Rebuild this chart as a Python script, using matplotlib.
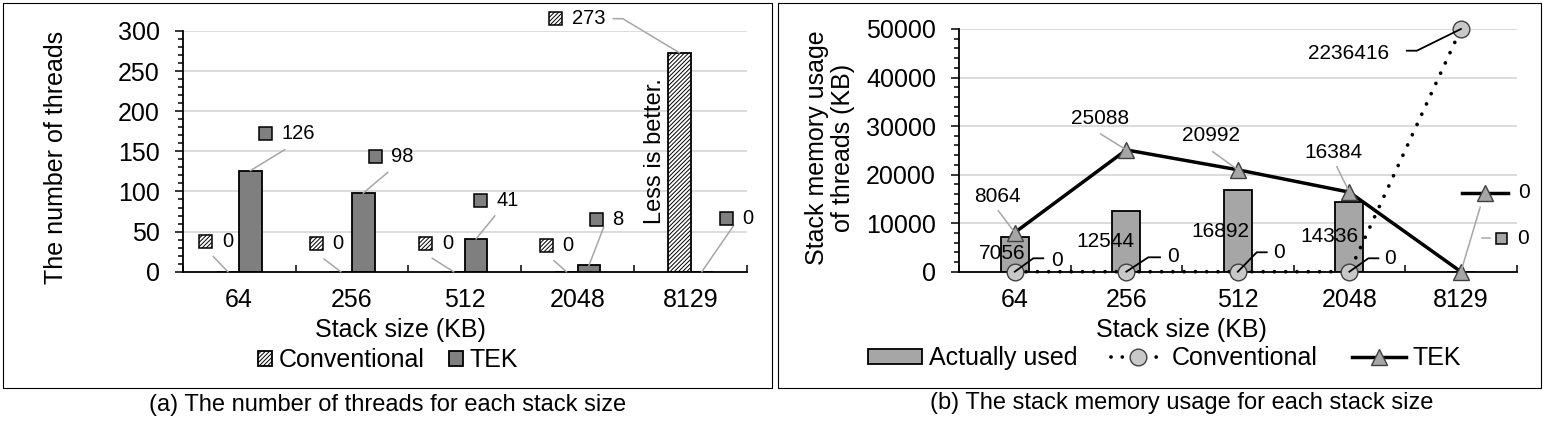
import numpy as np
import matplotlib
matplotlib.use('Agg')
import matplotlib.pyplot as plt
from matplotlib.patches import Rectangle
from matplotlib.lines import Line2D

plt.rcParams['font.family'] = ['Liberation Sans', 'DejaVu Sans']
plt.rcParams['hatch.linewidth'] = 0.7

W, H = 1546, 424

# Data
stack_sizes = ['64', '256', '512', '2048', '8129']
threads_conv = [0, 0, 0, 0, 273]
threads_tek = [126, 98, 41, 8, 0]
mem_used = [7056, 12544, 16892, 14336, 0]
mem_conv = [0, 0, 0, 0, 2236416]
mem_tek = [8064, 25088, 20992, 16384, 0]

# Label layout: pixel offsets from the labelled point (x right, y up)
conv_keys = [(-21.9, 30), (-24.5, 28), (-27.6, 28), (-20.2, 25.7), (-123.5, 34)]
conv_leads = [[(-14.4, 15), (0, 0)], [(-16.7, 12.7), (0, 0)], [(-21.3, 13.4), (0, 0)],
              [(-12.4, 11), (0, 0)], [(-66, 34), (-56.6, 34), (0, 0)]]
tek_keys = [(14.6, 36.9), (11.9, 36.6), (4.5, 38.4), (7.2, 45.6), (24.5, 53)]
tek_leads = [[(34.3, 20.9), (0, 0)], [(24.4, 20.6), (0, 0)], [(18.7, 22.9), (0, 0)],
             [(14.7, 38), (0, 0)], [(31.7, 46), (0, 0)]]

used_text = [(-13, 18.4), (-20.5, 30), (-17.8, 39.7), (-20.3, 35.4)]
tekr_text = [(-17.3, 36.1), (-25.8, 31.9), (-26.5, 34.6), (-15.6, 40)]
tekr_leads = [[(-16.5, 21.9), (0, 0)], [(-25.6, 15.9), (0, 0)], [(-25.1, 18.1), (0, 0)],
              [(-12.6, 25.5), (0, 0)], [(19.2, 64.4), (0, 0)]]
convr_leads = [[(0, 0), (18.5, 13.4), (28.5, 13.4)], [(0, 0), (22, 14.4), (33.7, 14.4)],
               [(0, 0), (18.9, 19.4), (28.9, 19.4)], [(0, 0), (19, 13.4), (29, 13.4)],
               [(0, 0), (-44.1, -21.7), (-54.1, -21.7)]]
convr_text = [(35.9, 11.7, 'left'), (40.4, 14.7, 'left'), (35.5, 19.2, 'left'),
              (34.7, 12.7, 'left'), (-71.5, -24.2, 'right')]

GRID = '#d9d9d9'
LEAD = '#a6a6a6'
HATCH = '////////'

fig = plt.figure(figsize=(W / 100, H / 100), dpi=100)


def fx(p):
    return p / W


def fy(p):
    return 1 - p / H


def at(ax, x, y, dx=0.0, dy=0.0):
    X, Y = ax.transData.transform((x, y))
    return (X + dx) / W, (Y + dy) / H


def leader(ax, x, y, pts, color=LEAD, lw=1.1):
    xy = [at(ax, x, y, dx, dy) for dx, dy in pts]
    xs, ys = zip(*xy)
    fig.add_artist(Line2D(xs, ys, transform=fig.transFigure, color=color, lw=lw, zorder=5))


def key_square(ax, x, y, dx, dy, size, **kw):
    cx, cy = at(ax, x, y, dx, dy)
    fig.add_artist(Rectangle((cx - size / 2 / W, cy - size / 2 / H), size / W, size / H,
                             transform=fig.transFigure, zorder=5, **kw))


def style(ax, ymax, step, minor):
    ax.set_xlim(-0.5, 4.5)
    ax.set_ylim(0, ymax)
    ax.patch.set_visible(False)
    for s in ['top', 'right']:
        ax.spines[s].set_visible(False)
    for s in ['left', 'bottom']:
        ax.spines[s].set_linewidth(1.3)
    ax.set_yticks(np.arange(0, ymax + 1, step))
    ax.set_yticks(np.arange(0, ymax + 1, minor), minor=True)
    ax.yaxis.grid(True, which='major', color=GRID, lw=1.3)
    ax.set_axisbelow(True)
    ax.set_xticks(np.arange(-0.5, 5), labels=[''] * 6)
    ax.set_xticks(range(5), labels=stack_sizes, minor=True)
    ax.tick_params(axis='x', which='major', direction='in', length=5.3, width=1.1)
    ax.tick_params(axis='x', which='minor', length=0, pad=11.5, labelsize=18)
    ax.tick_params(axis='y', which='major', direction='out', length=5.5, width=1.1,
                   pad=11, labelsize=18)
    ax.tick_params(axis='y', which='minor', direction='out', length=3.8, width=1.1)


# ---------- (a) number of threads ----------
axL = fig.add_axes([fx(182.7), fy(271.7), (747 - 182.7) / W, (271.7 - 31) / H])
style(axL, 300, 50, 10)
x = np.arange(5)
bc = axL.bar(x - 0.1, threads_conv, 0.2, color='white', edgecolor='black', hatch=HATCH,
             lw=1.3, zorder=2, label='Conventional')
bt = axL.bar(x + 0.1, threads_tek, 0.2, color='#7f7f7f', edgecolor='black', lw=1.3,
             zorder=2, label='TEK')

for i in range(5):
    leader(axL, i - 0.1, threads_conv[i], conv_leads[i])
    dx, dy = conv_keys[i]
    key_square(axL, i - 0.1, threads_conv[i], dx, dy, 13, fc='white', ec='black',
               hatch=HATCH, lw=1.1)
    tx, ty = at(axL, i - 0.1, threads_conv[i], dx + 16, dy)
    fig.text(tx, ty, str(threads_conv[i]), ha='left', va='center', fontsize=14.5)

    leader(axL, i + 0.1, threads_tek[i], tek_leads[i])
    dx, dy = tek_keys[i]
    key_square(axL, i + 0.1, threads_tek[i], dx, dy, 13, fc='#7f7f7f', ec='black', lw=1.1)
    tx, ty = at(axL, i + 0.1, threads_tek[i], dx + 16, dy)
    fig.text(tx, ty, str(threads_tek[i]), ha='left', va='center', fontsize=14.5)

fig.text(fx(56.5), fy(157.6), 'The number of threads', rotation=90, ha='center',
         va='center', fontsize=18)
fig.text(fx(400), fy(330), 'Stack size (KB)', ha='center', va='center', fontsize=18)
fig.text(fx(655), fy(150.8), 'Less is better.', rotation=90, ha='center', va='center',
         fontsize=17)
fig.legend(handles=[bc, bt], labels=['Conventional', 'TEK'], loc='center',
           bbox_to_anchor=(fx(388), fy(360)), ncol=2, frameon=False, fontsize=18,
           handlelength=0.55, handleheight=0.55, handletextpad=0.25, columnspacing=1.0,
           borderpad=0, borderaxespad=0)
fig.text(fx(387.5), fy(405.5), '(a) The number of threads for each stack size',
         ha='center', va='center', fontsize=17)

# ---------- (b) stack memory usage ----------
axR = fig.add_axes([fx(959), fy(271.7), (1516.7 - 959) / W, (271.7 - 29) / H])
ymax = 50000
style(axR, ymax, 10000, 2000)
bu = axR.bar(x, mem_used, 0.25, color='#a6a6a6', edgecolor='black', lw=1.3, zorder=2,
             label='Actually used')
lc, = axR.plot(x, np.minimum(mem_conv, ymax), color='black', lw=2.7, ls=(0, (0.01, 3)),
               dash_capstyle='round', marker='o', ms=12, mfc='#c8c8c8', mec='#404040',
               mew=1, zorder=3, clip_on=False, label='Conventional')
lt, = axR.plot(x, mem_tek, color='black', lw=2.5, marker='^', ms=11, mfc='#a6a6a6',
               mec='#404040', mew=1, zorder=4, clip_on=False, label='TEK')

for i in range(4):
    tx, ty = at(axR, i, 0, *used_text[i])
    fig.text(tx, ty, str(mem_used[i]), ha='center', va='center', fontsize=15)
    tx, ty = at(axR, i, mem_tek[i], *tekr_text[i])
    fig.text(tx, ty, str(mem_tek[i]), ha='center', va='center', fontsize=15)
    leader(axR, i, mem_tek[i], tekr_leads[i])

# last category: zero-valued labels with legend keys
leader(axR, 4, mem_tek[4], tekr_leads[4])
kx, ky = at(axR, 4, mem_tek[4], 24.2, 79)
fig.add_artist(Line2D([kx - 23.3 / W, kx + 23.3 / W], [ky, ky], transform=fig.transFigure,
                      color='black', lw=2.5, zorder=5))
fig.add_artist(Line2D([kx], [ky], transform=fig.transFigure, marker='^', ms=11,
                      mfc='#a6a6a6', mec='#404040', mew=1, zorder=6))
fig.text(kx + 33.3 / W, ky, str(mem_tek[4]), ha='left', va='center', fontsize=15)

leader(axR, 4, 0, [(20.9, 33.4), (29.2, 33.4)])
key_square(axR, 4, 0, 40.9, 33.4, 11, fc='#a6a6a6', ec='black', lw=1.1)
tx, ty = at(axR, 4, 0, 55.9, 33.4)
fig.text(tx, ty, str(mem_used[4]), ha='left', va='center', fontsize=15)

for i in range(5):
    yv = min(mem_conv[i], ymax)
    leader(axR, i, yv, convr_leads[i], color='black', lw=1.3)
    dx, dy, ha = convr_text[i]
    tx, ty = at(axR, i, yv, dx, dy)
    fig.text(tx, ty, str(mem_conv[i]), ha=ha, va='center', fontsize=15)

fig.text(fx(830), fy(147.8), 'Stack memory usage\nof threads (KB)', rotation=90,
         ha='center', va='center', fontsize=18, linespacing=1.1)
fig.text(fx(1181.7), fy(330), 'Stack size (KB)', ha='center', va='center', fontsize=18)
fig.legend(handles=[bu, lc, lt], labels=['Actually used', 'Conventional', 'TEK'],
           loc='center', bbox_to_anchor=(fx(1164.7), fy(358.3)), ncol=3, frameon=False,
           fontsize=18, handlelength=2.16, handleheight=0.5, handletextpad=0.27,
           columnspacing=1.35, borderpad=0, borderaxespad=0)
fig.text(fx(1181.7), fy(403), '(b) The stack memory usage for each stack size',
         ha='center', va='center', fontsize=17)

# panel frames
fig.add_artist(Rectangle((fx(3), fy(388)), (771.7 - 3) / W, (388 - 3) / H,
                         transform=fig.transFigure, fill=False, ec='black', lw=0.8))
fig.add_artist(Rectangle((fx(777.7), fy(388)), (1541 - 777.7) / W, (388 - 3) / H,
                         transform=fig.transFigure, fill=False, ec='black', lw=0.8))

fig.savefig('out.png', dpi=100)
